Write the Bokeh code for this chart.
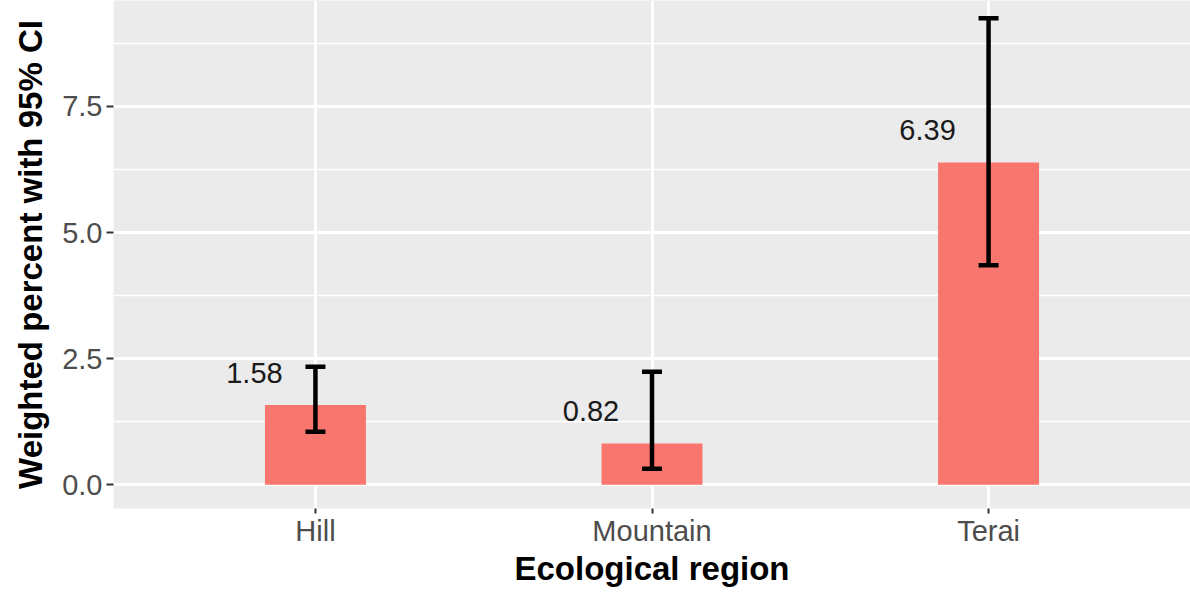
from bokeh.plotting import figure
from bokeh.models import ColumnDataSource, FactorRange, Range1d, FixedTicker, Whisker, TeeHead
from bokeh.core.properties import value
from bokeh.embed import file_html
from bokeh.resources import INLINE

categories = ["Hill", "Mountain", "Terai"]
values = [1.58, 0.82, 6.39]
lower_ci = [1.05, 0.32, 4.35]
upper_ci = [2.34, 2.24, 9.25]
labels = ["1.58", "0.82", "6.39"]
y_ticks = [0, 2.5, 5.0, 7.5]
y_minor = [1.25, 3.75, 6.25, 8.75]

src = ColumnDataSource(dict(cat=categories, val=values, lo=lower_ci, hi=upper_ci, lab=labels))

FONT = "Liberation Sans"

p = figure(x_range=FactorRange(*categories, range_padding=0.1, range_padding_units="absolute"),
           y_range=Range1d(-0.47, 9.60),
           frame_width=1077, frame_height=508,
           min_border_left=113, min_border_right=0, min_border_top=0, min_border_bottom=84,
           output_backend="svg", toolbar_location=None)

p.background_fill_color = "#EBEBEB"
p.border_fill_color = "white"
p.outline_line_color = None

p.vbar(x="cat", top="val", width=0.3, source=src, fill_color="#F8766D", line_color=None)

w = Whisker(base="cat", upper="hi", lower="lo", source=src, dimension="height",
            line_color="black", line_width=4.5, level="overlay",
            upper_head=TeeHead(size=20, line_color="black", line_width=4.5),
            lower_head=TeeHead(size=20, line_color="black", line_width=4.5))
p.add_layout(w)

p.text(x="cat", y="val", text="lab", source=src, x_offset=-61, y_offset=-32,
       text_align="center", text_baseline="middle", text_font=value(FONT),
       text_font_size="29px", text_color="#1a1a1a")

# grid
p.xgrid.grid_line_color = "white"
p.xgrid.grid_line_width = 3
p.ygrid.grid_line_color = "white"
p.ygrid.grid_line_width = 3
p.ygrid.minor_grid_line_color = "white"
p.ygrid.minor_grid_line_width = 1.5
p.yaxis.ticker = FixedTicker(ticks=y_ticks, minor_ticks=y_minor)
p.yaxis.major_label_overrides = {0: "0.0", 2.5: "2.5", 5.0: "5.0", 7.5: "7.5"}

for ax in (p.xaxis[0], p.yaxis[0]):
    ax.axis_line_color = None
    ax.major_tick_line_color = "#333333"
    ax.major_tick_line_width = 2
    ax.major_tick_out = 7
    ax.major_tick_in = 0
    ax.minor_tick_line_color = None
    ax.major_label_text_font = FONT
    ax.major_label_text_font_size = "29px"
    ax.major_label_text_color = "#4D4D4D"
    ax.axis_label_text_font = FONT
    ax.axis_label_text_font_size = "33px"
    ax.axis_label_text_font_style = "bold"
    ax.axis_label_text_color = "black"

p.xaxis.axis_label = "Ecological region"
p.yaxis.axis_label = "Weighted percent with 95% CI"
p.xaxis.major_tick_out = 5
p.xaxis.major_label_standoff = 1
p.xaxis.axis_label_standoff = 0
p.yaxis.major_label_standoff = 4
p.yaxis.axis_label_standoff = 10

open("out.html", "w").write(file_html(p, INLINE))
